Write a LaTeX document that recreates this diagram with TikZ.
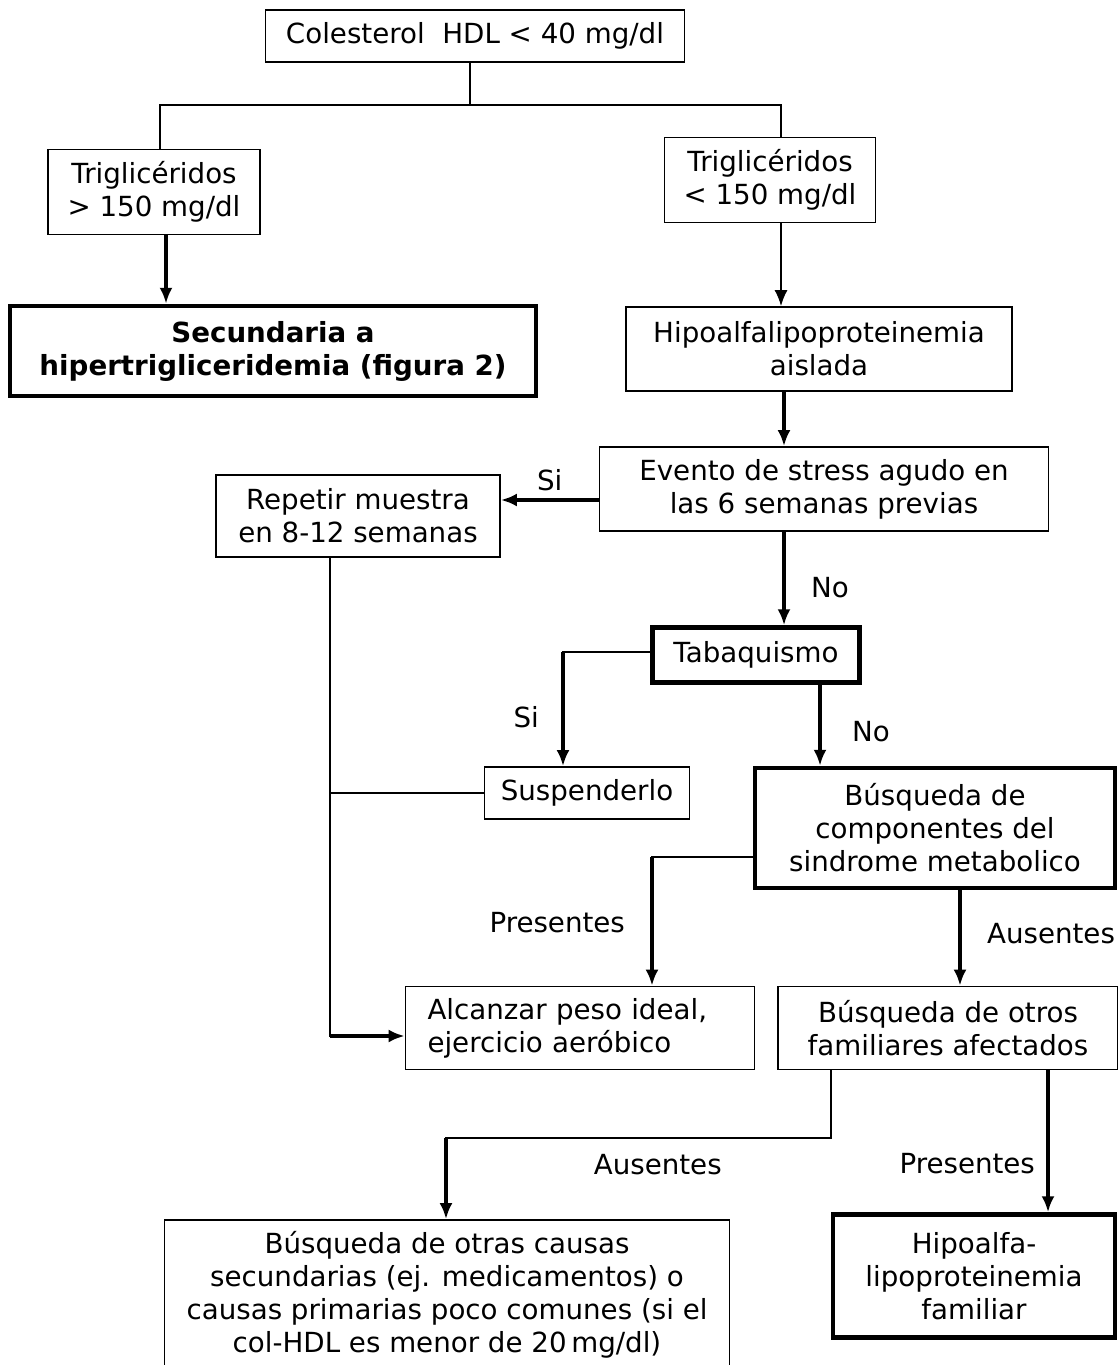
\documentclass[tikz,border=0pt]{standalone}
\usepackage{fontspec}
\setmainfont{DejaVu Sans}
\usetikzlibrary{positioning,arrows.meta}

\begin{document}
\begin{tikzpicture}[x=1pt, y=-1pt, >={Latex[length=16pt,width=13pt]},
    font=\fontsize{27.7}{33}\selectfont, % sizes in px of the scan
    box/.style={draw, line width=1.8pt, inner sep=0pt, align=center},
    heavy/.style={box, line width=4.5pt},
    wire/.style={line width=1.6pt, line cap=rect},
    arrow/.style={->, line width=3.5pt}]

  \path[fill=white, use as bounding box] (0,0) rectangle (1118,1365);

  \node[box, minimum width=419pt, minimum height=52pt] (1) at (475,36) {Colesterol~~HDL < 40 mg/dl};
  \node[box, minimum width=212pt, minimum height=85pt] (2) at (154,192) {Triglicéridos\\> 150 mg/dl};
  \node[box, minimum width=211pt, minimum height=85pt] (3) at (770,180) {Triglicéridos\\< 150 mg/dl};
  \node[heavy, minimum width=526pt, minimum height=90pt, font=\fontsize{27.7}{33}\selectfont\bfseries] (4) at (273,351) {Secundaria a\\hipertrigliceridemia (figura 2)};
  \node[box, minimum width=386pt, minimum height=84pt] (5) at (819,349) {Hipoalfalipoproteinemia\\aislada};
  \node[box, minimum width=449pt, minimum height=84pt] (6) at (824,489) {Evento de stress agudo en\\las 6 semanas previas};
  \node[box, minimum width=284pt, minimum height=82pt] (7) at (358,516) {Repetir muestra\\en 8-12 semanas};
  \node[heavy, minimum width=207pt, minimum height=55pt] (8) at (756,655) {Tabaquismo};
  \node[box, minimum width=205pt, minimum height=52pt] (9) at (587,793) {Suspenderlo};
  \node[heavy, minimum width=360pt, minimum height=120pt] (10) at (935,828) {Búsqueda de\\componentes del\\sindrome metabolico};
  \node[box, text width=305pt, inner xsep=22pt, minimum height=83pt, align=left] (11) at (580,1028) {Alcanzar peso ideal,\\ejercicio aeróbico};
  \node[box, minimum width=340pt, minimum height=83pt] (12) at (948,1028) {Búsqueda de otros\\familiares afectados};
  \node[box, minimum width=565pt, minimum height=150pt] (13) at (447,1295) {Búsqueda de otras causas\\secundarias (ej. medicamentos) o\\causas primarias poco comunes (si el\\col-HDL es menor de 20\,mg/dl)};
  \node[heavy, minimum width=282pt, minimum height=123pt] (14) at (974,1276) {Hipoalfa-\\lipoproteinemia\\familiar};

  \coordinate (t) at (470,105);
  \coordinate (c1) at (563,652);
  \coordinate (c2) at (330,1036);
  \coordinate (c3) at (652,857);
  \coordinate (c4) at (831,1138);
  \coordinate (c5) at (446,1138);

  \draw[wire] (1.south -| t) -- (t) -| ([xshift=6pt]2.north);
  \draw[wire] (t) -| ([xshift=11pt]3.north);
  \draw[arrow] ([xshift=12pt]2.south) -- ([xshift=12pt]4.north -| 2.south);
  \draw[wire, line cap=butt, ->] ([xshift=11pt]3.south) -- ([xshift=11pt]5.north -| 3.south);
  \draw[arrow] ([xshift=-35pt]5.south) -- ([xshift=-35pt]6.north -| 5.south);
  \draw[arrow] ([yshift=-11pt]6.west) -- node[above=4pt]{Si} ([yshift=-11pt]7.east |- 6.west);
  \draw[arrow] ([xshift=-40pt]6.south) -- node[pos=.6, right=22pt]{No} ([xshift=-40pt]8.north -| 6.south);

  \draw[wire] ([yshift=3pt]8.west) -- (c1);
  \draw[arrow] (c1) -- node[pos=.57, left=19pt]{Si} (c1 |- 9.north);
  \draw[arrow] ([xshift=64pt]8.south) -- node[pos=.58, right=27pt]{No} ([xshift=64pt]10.north -| 8.south);

  \draw[wire] (7.south -| c2) -- (c2);
  \draw[wire] (9.west) -- (9.west -| c2);
  \draw[arrow] (c2) -- (c2 -| 11.west);

  \draw[wire] (10.west |- c3) -- (c3);
  \draw[arrow] (c3) -- node[pos=.51, left=22pt]{Presentes} (c3 |- 11.north);
  \draw[arrow] ([xshift=25pt]10.south) -- node[pos=.45, right=22pt]{Ausentes} ([xshift=25pt]12.north -| 10.south);

  \draw[wire] (12.south -| c4) -- (c4) -- node[pos=.45, below=12pt]{Ausentes} (c5);
  \draw[arrow] (c5) -- (c5 |- 13.north);
  \draw[arrow] ([xshift=100pt]12.south) -- node[pos=.66, left=8pt]{Presentes} ([xshift=100pt]14.north -| 12.south);
\end{tikzpicture}
\end{document}
